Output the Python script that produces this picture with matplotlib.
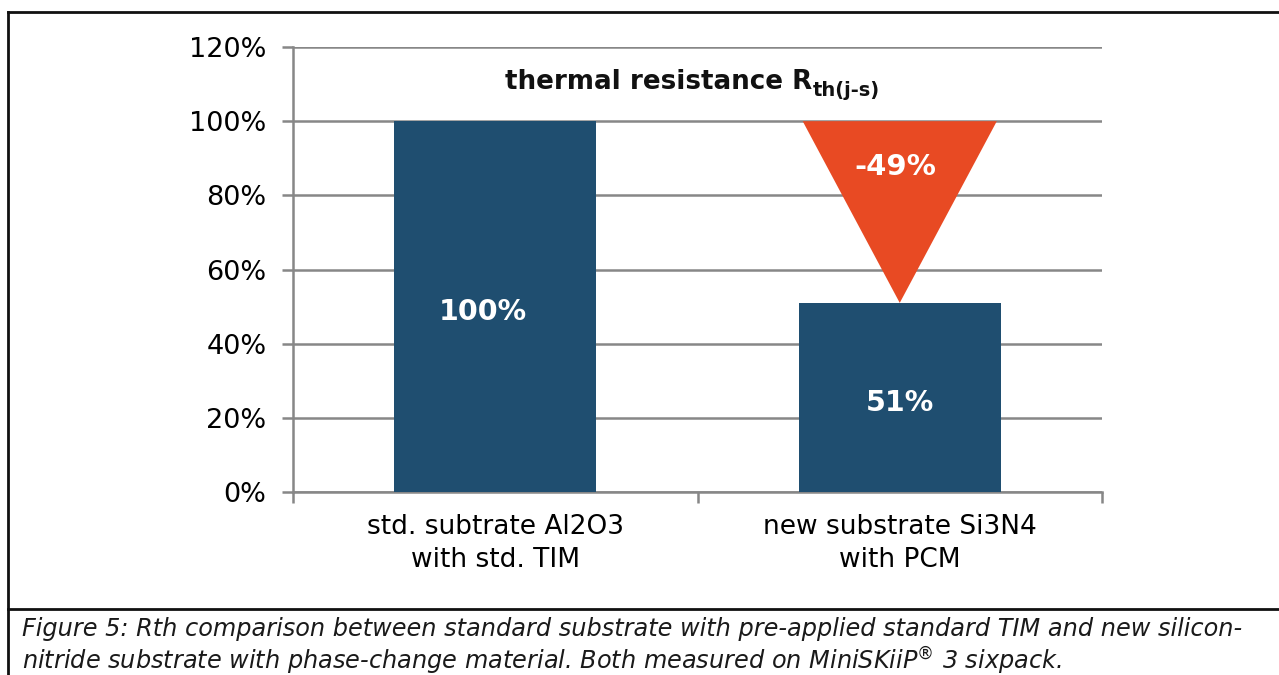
import matplotlib.pyplot as plt
from matplotlib.lines import Line2D
from matplotlib.patches import Polygon

categories = ['std. subtrate Al2O3\nwith std. TIM', 'new substrate Si3N4\nwith PCM']
values = [100, 51]
bar_labels = ['100%', '51%']
reduction = -49
yticks = [0, 20, 40, 60, 80, 100, 120]

blue = '#1F4E70'
orange = '#E84A23'
grid = '#878787'

fig = plt.figure(figsize=(12.79, 6.75), dpi=100)
ax = fig.add_axes([293/1279, 1-492/675, (1102-293)/1279, (492-47)/675])

x = list(range(len(categories)))
ax.bar(x, values, width=0.5, color=blue, zorder=3)
ax.set_xlim(-0.5, 1.5)
ax.set_ylim(0, 120)

for xi, v, lab in zip(x, values, bar_labels):
    ax.text(xi - 0.03 if v == 100 else xi, v / 2 - 1.5, lab, color='white', fontsize=20.5,
            fontweight='bold', ha='center', va='center', zorder=5)

# downward triangle showing the reduction
top = values[0]
bottom = values[1]
tri = Polygon([[1 - 0.24, top], [1 + 0.24, top], [1, bottom]], closed=True,
              color=orange, zorder=4, lw=0)
ax.add_patch(tri)
ax.text(0.99, top + reduction * 0.25, '%d%%' % reduction, color='white', fontsize=21,
        fontweight='bold', ha='center', va='center', zorder=5)

ax.set_yticks(yticks)
ax.set_yticklabels(['%d%%' % t for t in yticks], fontsize=19.5)
ax.yaxis.grid(True, color=grid, lw=1.8, zorder=0)
ax.set_xticks([-0.5, 0.5, 1.5])
ax.set_xticklabels([])
ax.set_xticks(x, minor=True)
ax.set_xticklabels(categories, minor=True, fontsize=19, linespacing=1.33)
ax.tick_params(axis='x', which='minor', length=0, pad=16)
ax.tick_params(axis='x', which='major', length=8, width=1.8, color=grid)
ax.tick_params(axis='y', length=8, width=1.8, color=grid, pad=11)
for s in ['top', 'right']:
    ax.spines[s].set_visible(False)
for s in ['left', 'bottom']:
    ax.spines[s].set_color(grid)
    ax.spines[s].set_linewidth(1.8)

# title with subscript
t = fig.text(505/1279, 1 - 82/675, 'thermal resistance R', fontsize=18.8, fontweight='bold',
             ha='left', va='center', color='#111111')
fig.canvas.draw()
bb = t.get_window_extent()
fig.text(bb.x1 / 1279, 1 - 91/675, 'th(j-s)', fontsize=14, fontweight='bold',
         ha='left', va='center', color='#111111')

# frame and caption
fig.add_artist(Line2D([8/1279, 8/1279], [0, 1 - 12/675], color='#111111', lw=2))
fig.add_artist(Line2D([8/1279, 1], [1 - 12/675, 1 - 12/675], color='#111111', lw=2))
fig.add_artist(Line2D([8/1279, 1], [1 - 609/675, 1 - 609/675], color='#111111', lw=2))
fig.text(22/1279, 1 - 629/675,
         'Figure 5: Rth comparison between standard substrate with pre-applied standard TIM and new silicon-',
         fontsize=17.3, style='italic', ha='left', va='center', color='#1a1a1a')
fig.text(22/1279, 1 - 661/675,
         r'nitride substrate with phase-change material. Both measured on MiniSKiiP$^{\circledR}$ 3 sixpack.',
         fontsize=17.3, style='italic', ha='left', va='center', color='#1a1a1a')

fig.savefig('out.png', dpi=100)
